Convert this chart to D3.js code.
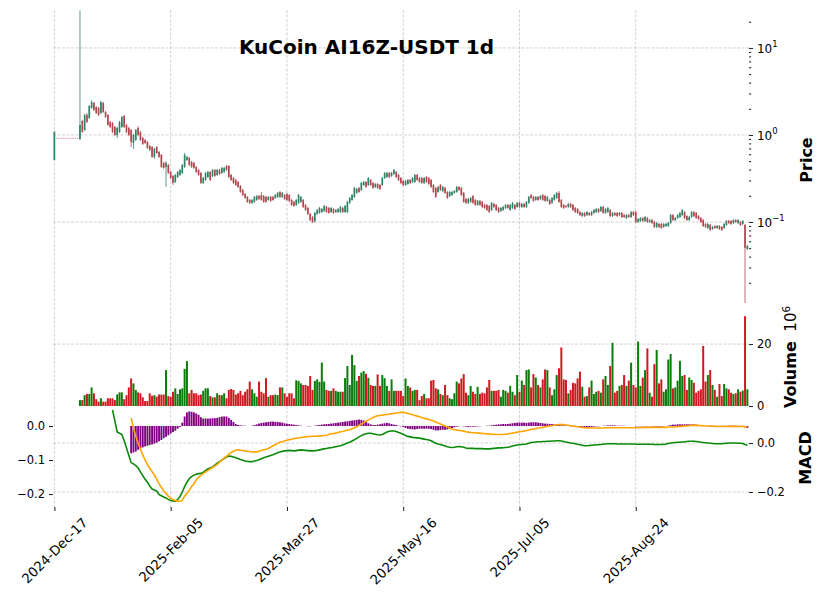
<!DOCTYPE html>
<html><head><meta charset="utf-8">
<script src="https://cdn.jsdelivr.net/npm/d3@7/dist/d3.min.js"></script>
<style>
html,body{margin:0;padding:0;background:#fff;}
svg text{font-family:"DejaVu Sans",sans-serif;fill:#000;}
</style></head>
<body><svg id="chart" width="824" height="600"></svg>
<script>
const chartTitle = "KuCoin AI16Z-USDT 1d";
const opens = [0.516,0.915,0.915,0.915,0.915,0.915,0.915,0.915,0.915,0.915,
0.915,0.899,1.448,1.142,1.698,1.568,2.043,2.332,2.098,2.043,
1.790,2.332,1.838,1.698,1.411,1.374,1.236,1.000,1.083,1.236,
1.653,1.303,1.204,1.142,0.809,0.876,1.204,1.083,0.924,0.876,
0.831,0.747,0.728,0.559,0.728,0.638,0.589,0.477,0.429,0.452,
0.376,0.338,0.288,0.329,0.347,0.366,0.429,0.516,0.544,0.490,
0.477,0.429,0.396,0.366,0.281,0.304,0.329,0.376,0.338,0.396,
0.347,0.396,0.366,0.376,0.440,0.440,0.347,0.320,0.304,0.288,
0.259,0.233,0.210,0.194,0.179,0.166,0.170,0.179,0.199,0.204,
0.199,0.194,0.179,0.194,0.194,0.189,0.194,0.221,0.194,0.204,
0.210,0.204,0.179,0.170,0.157,0.166,0.170,0.179,0.157,0.145,
0.124,0.114,0.103,0.124,0.127,0.130,0.134,0.149,0.145,0.130,
0.141,0.130,0.130,0.130,0.145,0.130,0.130,0.166,0.179,0.194,
0.216,0.246,0.233,0.266,0.288,0.266,0.304,0.281,0.253,0.273,
0.266,0.266,0.320,0.329,0.366,0.338,0.356,0.376,0.347,0.320,
0.296,0.266,0.273,0.304,0.288,0.288,0.347,0.320,0.320,0.281,
0.329,0.320,0.304,0.266,0.246,0.221,0.266,0.227,0.246,0.221,
0.199,0.204,0.216,0.221,0.253,0.246,0.216,0.184,0.166,0.170,
0.199,0.179,0.157,0.175,0.170,0.157,0.157,0.153,0.137,0.161,
0.157,0.145,0.134,0.137,0.145,0.157,0.137,0.145,0.157,0.149,
0.166,0.149,0.161,0.149,0.166,0.204,0.194,0.179,0.194,0.184,
0.204,0.199,0.175,0.179,0.166,0.179,0.189,0.216,0.179,0.157,
0.153,0.149,0.161,0.157,0.145,0.141,0.130,0.117,0.127,0.120,
0.127,0.120,0.127,0.130,0.141,0.134,0.149,0.127,0.130,0.137,
0.117,0.127,0.127,0.120,0.127,0.120,0.111,0.120,0.114,0.130,
0.130,0.100,0.103,0.111,0.103,0.111,0.100,0.105,0.100,0.0876,
0.0948,0.0948,0.0876,0.0899,0.0899,0.0974,0.120,0.105,0.111,0.114,
0.120,0.130,0.117,0.105,0.114,0.130,0.127,0.117,0.111,0.105,
0.0948,0.0853,0.0924,0.0831,0.0899,0.0853,0.0899,0.0876,0.0853,0.0924,
0.103,0.103,0.0974,0.105,0.0974,0.100,0.0948,0.0924,0.0490];
const highs = [1.10,0.915,0.915,0.915,0.915,0.915,0.915,0.915,0.915,0.915,
0.915,27,1.49,1.75,1.79,2.21,2.52,2.40,2.15,2.10,
2.46,2.40,1.89,1.74,1.45,1.41,1.27,1.24,1.45,1.65,
1.70,1.34,1.24,1.17,1.03,1.17,1.27,1.11,0.95,0.90,
0.853,0.767,0.747,0.709,0.747,0.655,0.605,0.490,0.503,0.464,
0.386,0.347,0.356,0.386,0.407,0.464,0.621,0.574,0.559,0.503,
0.490,0.440,0.407,0.376,0.329,0.376,0.386,0.386,0.407,0.407,
0.407,0.407,0.429,0.429,0.452,0.452,0.356,0.329,0.312,0.296,
0.266,0.240,0.216,0.199,0.184,0.184,0.199,0.204,0.204,0.221,
0.204,0.199,0.199,0.199,0.199,0.210,0.221,0.227,0.221,0.210,
0.216,0.210,0.184,0.175,0.184,0.210,0.199,0.184,0.161,0.149,
0.127,0.117,0.130,0.141,0.149,0.145,0.157,0.153,0.149,0.149,
0.145,0.141,0.145,0.153,0.149,0.157,0.175,0.194,0.210,0.253,
0.246,0.253,0.288,0.296,0.296,0.329,0.312,0.288,0.281,0.281,
0.273,0.329,0.376,0.376,0.376,0.376,0.407,0.386,0.356,0.329,
0.304,0.304,0.312,0.312,0.329,0.356,0.356,0.329,0.329,0.329,
0.338,0.329,0.312,0.273,0.253,0.259,0.273,0.259,0.253,0.227,
0.227,0.227,0.233,0.259,0.259,0.253,0.221,0.189,0.189,0.194,
0.204,0.184,0.179,0.179,0.175,0.161,0.161,0.157,0.170,0.166,
0.161,0.149,0.149,0.153,0.161,0.161,0.161,0.170,0.161,0.170,
0.170,0.166,0.166,0.175,0.199,0.210,0.199,0.199,0.199,0.204,
0.210,0.204,0.199,0.184,0.194,0.210,0.221,0.227,0.184,0.161,
0.157,0.166,0.166,0.161,0.149,0.145,0.134,0.130,0.130,0.134,
0.130,0.134,0.141,0.145,0.145,0.153,0.153,0.145,0.149,0.141,
0.130,0.130,0.130,0.130,0.130,0.124,0.124,0.124,0.134,0.134,
0.134,0.111,0.114,0.114,0.117,0.114,0.108,0.108,0.103,0.100,
0.0974,0.0974,0.0974,0.0974,0.100,0.124,0.124,0.114,0.124,0.130,
0.141,0.134,0.120,0.117,0.134,0.134,0.130,0.120,0.114,0.108,
0.0974,0.0974,0.0948,0.0899,0.0924,0.0924,0.0924,0.0899,0.0974,0.105,
0.105,0.105,0.108,0.108,0.108,0.103,0.105,0.0948,0.0545];
const lows = [0.51,0.915,0.915,0.915,0.915,0.915,0.915,0.915,0.915,0.915,
0.915,0.876,1.06,1.11,1.37,1.53,2.00,1.89,1.74,1.65,
1.74,1.79,1.57,1.27,1.20,1.05,0.97,0.924,1.05,1.20,
1.20,1.05,0.97,0.728,0.690,0.853,0.97,0.853,0.767,0.788,
0.690,0.655,0.544,0.530,0.605,0.544,0.418,0.407,0.253,0.356,
0.312,0.266,0.281,0.320,0.338,0.356,0.418,0.503,0.440,0.418,
0.407,0.366,0.338,0.273,0.273,0.296,0.320,0.296,0.329,0.329,
0.338,0.347,0.356,0.366,0.386,0.320,0.296,0.273,0.259,0.246,
0.216,0.199,0.184,0.166,0.161,0.161,0.166,0.175,0.179,0.175,
0.166,0.166,0.175,0.170,0.175,0.184,0.189,0.189,0.189,0.179,
0.175,0.170,0.153,0.149,0.153,0.161,0.166,0.145,0.134,0.120,
0.103,0.0974,0.0974,0.120,0.124,0.127,0.130,0.127,0.124,0.127,
0.124,0.127,0.127,0.127,0.127,0.127,0.127,0.161,0.175,0.189,
0.210,0.216,0.227,0.259,0.246,0.259,0.259,0.240,0.246,0.240,
0.233,0.259,0.312,0.320,0.320,0.329,0.347,0.320,0.296,0.273,
0.259,0.259,0.266,0.273,0.281,0.281,0.296,0.281,0.273,0.273,
0.281,0.266,0.246,0.216,0.189,0.216,0.227,0.221,0.210,0.184,
0.194,0.199,0.210,0.216,0.227,0.199,0.166,0.161,0.161,0.166,
0.161,0.153,0.153,0.153,0.145,0.141,0.134,0.127,0.134,0.145,
0.134,0.127,0.130,0.134,0.141,0.141,0.134,0.141,0.137,0.145,
0.145,0.145,0.145,0.145,0.161,0.184,0.170,0.175,0.175,0.179,
0.175,0.170,0.170,0.157,0.161,0.175,0.184,0.166,0.145,0.141,
0.145,0.145,0.145,0.134,0.127,0.124,0.117,0.114,0.114,0.117,
0.117,0.117,0.124,0.127,0.127,0.130,0.124,0.124,0.127,0.114,
0.114,0.117,0.114,0.117,0.111,0.111,0.108,0.111,0.111,0.117,
0.0974,0.0974,0.100,0.100,0.100,0.0974,0.0974,0.0948,0.0853,0.0853,
0.0853,0.0831,0.0853,0.0876,0.0876,0.0948,0.103,0.103,0.108,0.111,
0.117,0.108,0.103,0.103,0.111,0.114,0.108,0.105,0.0974,0.0876,
0.0853,0.0831,0.0788,0.0809,0.0831,0.0831,0.0809,0.0788,0.0831,0.0899,
0.0948,0.0924,0.0948,0.0974,0.0948,0.0899,0.0924,0.0117,0.0477];
const closes = [1.09,0.915,0.915,0.915,0.915,0.915,0.915,0.915,0.915,0.915,
0.915,1.303,1.083,1.698,1.411,2.154,2.395,1.938,1.790,1.698,
2.395,1.838,1.610,1.303,1.236,1.083,1.000,1.204,1.411,1.610,
1.236,1.083,1.000,0.831,1.000,1.142,1.000,0.876,0.788,0.809,
0.709,0.672,0.559,0.690,0.621,0.559,0.429,0.418,0.477,0.366,
0.320,0.281,0.347,0.376,0.396,0.452,0.589,0.559,0.452,0.429,
0.418,0.376,0.347,0.281,0.320,0.366,0.376,0.304,0.396,0.338,
0.396,0.356,0.418,0.418,0.396,0.329,0.304,0.281,0.266,0.253,
0.221,0.204,0.189,0.170,0.166,0.179,0.194,0.199,0.184,0.179,
0.170,0.170,0.194,0.175,0.179,0.204,0.216,0.194,0.216,0.184,
0.179,0.175,0.157,0.153,0.179,0.204,0.194,0.149,0.137,0.124,
0.105,0.100,0.127,0.137,0.145,0.141,0.153,0.130,0.127,0.145,
0.127,0.137,0.141,0.149,0.130,0.153,0.170,0.189,0.204,0.246,
0.240,0.221,0.281,0.288,0.253,0.320,0.266,0.246,0.273,0.246,
0.240,0.320,0.366,0.366,0.329,0.366,0.396,0.329,0.304,0.281,
0.266,0.296,0.304,0.281,0.320,0.347,0.304,0.288,0.281,0.320,
0.288,0.273,0.253,0.221,0.194,0.253,0.233,0.253,0.216,0.189,
0.221,0.221,0.227,0.253,0.233,0.204,0.170,0.166,0.184,0.189,
0.166,0.157,0.175,0.157,0.149,0.145,0.137,0.130,0.166,0.149,
0.137,0.130,0.145,0.149,0.157,0.145,0.157,0.166,0.141,0.166,
0.149,0.161,0.149,0.170,0.194,0.189,0.175,0.194,0.179,0.199,
0.179,0.175,0.194,0.161,0.189,0.204,0.216,0.170,0.149,0.145,
0.149,0.161,0.149,0.137,0.130,0.127,0.120,0.127,0.117,0.130,
0.120,0.130,0.137,0.141,0.130,0.149,0.127,0.141,0.145,0.117,
0.127,0.120,0.117,0.127,0.114,0.114,0.120,0.114,0.130,0.120,
0.100,0.108,0.111,0.103,0.114,0.100,0.105,0.0974,0.0876,0.0974,
0.0876,0.0853,0.0948,0.0948,0.0974,0.120,0.105,0.111,0.120,0.127,
0.137,0.111,0.105,0.114,0.130,0.117,0.111,0.108,0.100,0.0899,
0.0876,0.0948,0.0809,0.0876,0.0853,0.0899,0.0831,0.0809,0.0948,0.103,
0.0974,0.0948,0.105,0.100,0.105,0.0924,0.103,0.0503,0.0531];
// volume in units of 10^6
const volumes = [0,0,0,0,0,0,0,0,0,0,
0,1.9,1.9,3.5,3.9,3.9,6.0,4.1,2.2,1.4,
2.5,1.4,1.4,2.5,2.5,2.5,1.9,3.7,4.4,4.4,
2.2,3.5,6.0,8.9,7.3,5.2,4.4,4.1,2.8,1.6,
1.6,4.1,3.3,3.5,3.0,3.7,3.7,3.7,11.6,3.2,
3.0,4.6,5.7,3.9,5.4,5.7,12.0,14.5,4.1,5.2,
4.1,4.1,3.5,3.7,4.9,5.7,5.7,3.2,2.8,2.8,
4.1,3.5,3.5,4.1,2.5,5.2,5.5,5.2,3.7,4.1,
4.9,3.5,4.6,5.4,7.9,5.4,4.1,3.0,7.9,4.6,
4.1,9.0,3.0,3.5,3.5,3.7,3.5,6.0,6.0,4.1,
3.0,4.1,4.1,2.5,8.3,8.1,7.3,6.8,6.8,6.5,
9.7,5.2,8.1,8.6,7.8,14.0,7.9,5.2,4.9,4.9,
5.7,4.9,4.6,4.6,4.6,9.0,12.9,6.8,16.5,13.2,
8.1,9.7,10.8,11.3,10.4,9.1,6.8,6.5,6.5,10.2,
6.5,10.0,9.0,6.5,4.9,8.6,4.9,4.9,4.9,4.9,
3.2,8.9,6.5,6.0,4.9,5.2,5.2,1.9,3.2,3.9,
2.5,2.5,8.2,8.4,5.7,5.4,3.9,3.5,6.8,3.5,
2.5,2.2,4.1,7.9,7.3,8.9,10.3,4.3,3.5,6.5,
4.6,3.9,6.2,3.9,4.3,4.1,6.0,8.4,4.9,4.9,
4.9,5.2,3.0,5.2,4.9,4.3,6.5,4.6,3.5,10.0,
4.6,8.2,6.8,11.6,11.8,6.0,10.3,9.2,6.8,6.0,
8.6,11.8,11.6,6.0,3.5,5.4,10.0,12.2,18.9,8.6,
8.4,4.1,5.2,7.5,7.3,8.9,11.1,6.2,3.0,3.2,
6.0,8.2,3.9,4.6,4.9,4.3,8.6,9.7,6.8,12.9,
20.4,4.3,4.9,6.5,6.8,10.0,6.5,8.2,14.0,6.8,
6.0,20.8,6.5,9.2,11.6,18.6,4.3,3.0,13.5,18.1,
7.3,8.6,4.6,5.4,15.0,16.8,5.7,6.0,8.2,14.6,
9.7,10.0,5.2,9.2,8.4,7.5,4.3,4.9,5.4,19.4,
7.9,10.0,11.6,6.8,5.2,3.0,7.1,3.2,7.1,5.7,
5.4,4.3,3.9,4.1,5.4,4.6,5.0,29.0,5.4];
const macdStart = 25;
const macdLine = [0.135,0.090,0.045,0.040,0.035,
0.010,-0.020,-0.050,-0.080,-0.085,-0.092,-0.102,-0.118,-0.133,-0.148,
-0.160,-0.175,-0.188,-0.192,-0.196,-0.210,-0.215,-0.220,-0.224,-0.230,
-0.234,-0.236,-0.237,-0.231,-0.218,-0.200,-0.178,-0.160,-0.145,-0.137,
-0.131,-0.127,-0.125,-0.124,-0.120,-0.112,-0.106,-0.102,-0.098,-0.090,
-0.082,-0.076,-0.070,-0.063,-0.057,-0.053,-0.054,-0.057,-0.060,-0.063,
-0.067,-0.070,-0.073,-0.075,-0.076,-0.076,-0.073,-0.071,-0.068,-0.064,
-0.060,-0.057,-0.054,-0.051,-0.048,-0.044,-0.040,-0.037,-0.034,-0.032,
-0.031,-0.030,-0.031,-0.032,-0.031,-0.029,-0.028,-0.029,-0.030,-0.031,
-0.032,-0.032,-0.031,-0.030,-0.028,-0.026,-0.024,-0.022,-0.020,-0.019,
-0.017,-0.015,-0.013,-0.011,-0.008,-0.004,0.000,0.003,0.008,0.013,
0.019,0.025,0.030,0.035,0.038,0.040,0.040,0.038,0.036,0.034,
0.033,0.035,0.040,0.045,0.048,0.049,0.049,0.047,0.043,0.040,
0.036,0.031,0.027,0.025,0.023,0.022,0.021,0.020,0.018,0.016,
0.014,0.012,0.009,0.004,-0.001,-0.004,-0.006,-0.009,-0.012,-0.015,
-0.017,-0.018,-0.017,-0.015,-0.014,-0.015,-0.017,-0.020,-0.022,-0.022,
-0.022,-0.023,-0.023,-0.023,-0.023,-0.024,-0.024,-0.024,-0.023,-0.022,
-0.021,-0.020,-0.020,-0.019,-0.018,-0.017,-0.015,-0.012,-0.010,-0.008,
-0.007,-0.006,-0.005,-0.004,-0.001,0.002,0.003,0.004,0.005,0.005,
0.006,0.006,0.007,0.007,0.008,0.008,0.009,0.009,0.008,0.006,
0.004,0.002,0.000,-0.001,-0.003,-0.005,-0.007,-0.009,-0.011,-0.011,
-0.010,-0.009,-0.008,-0.007,-0.007,-0.006,-0.005,-0.004,-0.003,-0.003,
-0.003,-0.003,-0.004,-0.004,-0.004,-0.004,-0.004,-0.004,-0.004,-0.004,
-0.005,-0.005,-0.005,-0.005,-0.005,-0.005,-0.005,-0.005,-0.006,-0.006,
-0.006,-0.006,-0.005,-0.004,-0.002,0.000,0.001,0.002,0.003,0.003,
0.004,0.005,0.006,0.007,0.007,0.007,0.006,0.005,0.003,0.002,
0.001,0.000,-0.001,-0.002,-0.003,-0.003,-0.003,-0.003,-0.002,-0.001,
0.000,0.000,0.000,0.000,-0.001,-0.001,-0.002,-0.006,-0.009];
const signalStart = 33;
const signalLine = [0.023,-0.005,-0.030,-0.050,-0.068,-0.085,-0.100,
-0.113,-0.124,-0.134,-0.144,-0.156,-0.170,-0.180,-0.190,-0.198,-0.206,
-0.212,-0.216,-0.219,-0.221,-0.221,-0.218,-0.206,-0.198,-0.188,-0.178,
-0.170,-0.158,-0.150,-0.145,-0.140,-0.135,-0.131,-0.126,-0.122,-0.118,
-0.113,-0.106,-0.100,-0.094,-0.089,-0.083,-0.078,-0.074,-0.071,-0.070,
-0.071,-0.072,-0.073,-0.074,-0.075,-0.076,-0.076,-0.076,-0.074,-0.072,
-0.070,-0.068,-0.066,-0.062,-0.058,-0.055,-0.051,-0.048,-0.046,-0.044,
-0.042,-0.040,-0.039,-0.037,-0.036,-0.035,-0.034,-0.033,-0.032,-0.031,
-0.031,-0.030,-0.030,-0.030,-0.029,-0.029,-0.028,-0.027,-0.025,-0.023,
-0.022,-0.021,-0.019,-0.017,-0.016,-0.014,-0.012,-0.011,-0.008,-0.005,
-0.002,0.002,0.006,0.010,0.014,0.018,0.021,0.025,0.028,0.030,
0.031,0.032,0.033,0.034,0.035,0.036,0.037,0.038,0.039,0.040,
0.040,0.039,0.037,0.035,0.033,0.031,0.029,0.027,0.025,0.023,
0.021,0.019,0.017,0.015,0.012,0.009,0.006,0.003,0.000,-0.003,
-0.006,-0.009,-0.011,-0.012,-0.013,-0.014,-0.015,-0.017,-0.018,-0.019,
-0.020,-0.020,-0.021,-0.021,-0.022,-0.022,-0.023,-0.023,-0.024,-0.024,
-0.025,-0.025,-0.025,-0.025,-0.024,-0.023,-0.022,-0.021,-0.020,-0.018,
-0.017,-0.016,-0.015,-0.013,-0.012,-0.010,-0.009,-0.008,-0.006,-0.005,
-0.004,-0.002,-0.001,0.000,0.001,0.002,0.003,0.004,0.004,0.004,
0.003,0.002,0.001,0.000,-0.001,-0.002,-0.003,-0.004,-0.005,-0.006,
-0.006,-0.006,-0.006,-0.006,-0.006,-0.006,-0.006,-0.005,-0.005,-0.005,
-0.005,-0.005,-0.005,-0.005,-0.005,-0.005,-0.005,-0.005,-0.005,-0.005,
-0.005,-0.005,-0.005,-0.004,-0.004,-0.004,-0.004,-0.004,-0.004,-0.004,
-0.004,-0.004,-0.004,-0.004,-0.003,-0.003,-0.003,-0.002,-0.002,-0.001,
-0.001,0.000,0.000,0.001,0.002,0.002,0.002,0.002,0.001,0.001,
0.000,0.000,0.000,0.000,-0.001,-0.001,-0.001,-0.001,-0.001,-0.001,
-0.001,-0.001,-0.001,-0.001,-0.001,-0.001,-0.001,-0.002,-0.002];
const histStart = 33;
const histogram = [-0.080,-0.078,-0.075,-0.070,-0.066,-0.063,-0.060,
-0.058,-0.056,-0.054,-0.052,-0.049,-0.045,-0.041,-0.036,-0.032,-0.027,
-0.022,-0.018,-0.014,-0.008,-0.003,0.010,0.028,0.040,0.043,0.042,
0.040,0.037,0.033,0.026,0.022,0.022,0.022,0.022,0.023,0.023,
0.024,0.026,0.028,0.028,0.028,0.024,0.018,0.012,0.006,0.003,
0.002,0.001,0.001,0.000,0.000,0.001,0.003,0.005,0.007,0.009,
0.010,0.011,0.012,0.013,0.013,0.012,0.012,0.011,0.010,0.008,
0.007,0.006,0.005,0.004,0.003,0.002,0.001,0.000,0.000,-0.001,
-0.001,0.000,0.001,0.002,0.003,0.004,0.005,0.006,0.006,0.007,
0.008,0.009,0.010,0.011,0.012,0.013,0.014,0.015,0.016,0.017,
0.018,0.019,0.018,0.016,0.012,0.008,0.005,0.003,0.003,0.004,
0.005,0.007,0.008,0.009,0.008,0.006,0.004,0.003,0.001,-0.001,
-0.003,-0.006,-0.008,-0.009,-0.010,-0.010,-0.009,-0.008,-0.008,-0.008,
-0.008,-0.008,-0.009,-0.011,-0.013,-0.013,-0.012,-0.011,-0.011,-0.010,
-0.008,-0.006,-0.004,-0.002,-0.001,0.000,-0.001,-0.002,-0.003,-0.002,
-0.002,-0.002,-0.001,-0.001,0.000,0.000,0.001,0.001,0.002,0.003,
0.004,0.005,0.005,0.006,0.006,0.006,0.007,0.008,0.009,0.010,
0.010,0.010,0.010,0.009,0.010,0.011,0.011,0.011,0.010,0.009,
0.008,0.007,0.007,0.006,0.006,0.005,0.005,0.004,0.004,0.002,
0.001,0.000,-0.001,-0.002,-0.002,-0.003,-0.004,-0.005,-0.006,-0.005,
-0.004,-0.003,-0.002,-0.001,-0.001,0.000,0.001,0.001,0.002,0.002,
0.002,0.002,0.001,0.001,0.001,0.001,0.000,0.000,0.000,0.000,
-0.001,-0.001,-0.001,-0.001,-0.001,-0.001,-0.001,-0.001,-0.002,-0.002,
-0.002,-0.002,-0.001,0.000,0.001,0.003,0.004,0.004,0.005,0.005,
0.005,0.005,0.005,0.005,0.005,0.005,0.004,0.003,0.002,0.001,
0.000,-0.001,-0.002,-0.002,-0.002,-0.002,-0.002,-0.002,-0.001,0.000,
0.001,0.001,0.001,0.001,0.000,0.000,-0.001,-0.004,-0.006];
const tickIndex = [0,50,100,150,200,250];
const tickLabels = ["2024-Dec-17","2025-Feb-05","2025-Mar-27","2025-May-16","2025-Jul-05","2025-Aug-24"];
const priceTicks = [10,1,0.1];
const priceExponents = ["1","0","\u22121"];
const volumeTicks = [0,20];
const macdRightTicks = [0,-0.2];
const macdLeftTicks = [0,-0.1,-0.2];

const svg = d3.select("#chart");
const L = 53, R = 749;
const P = {top:10, bot:306}, V = {top:306, bot:406}, M = {top:406, bot:507};
const N = closes.length;
const x = d3.scaleLinear().domain([-0.6, N - 1 + 0.7]).range([L, R]);
const step = x(1) - x(0);
const yP = d3.scaleLog().domain([0.01082, 27.3]).range([P.bot, P.top]);
const yV = d3.scaleLinear().domain([0, 32.3]).range([V.bot, V.top]);
const yML = d3.scaleLinear().domain([-0.238, 0.0588]).range([M.bot, M.top]);
const yMR = d3.scaleLinear().domain([-0.261, 0.151]).range([M.bot, M.top]);

const UP = "#2f8466", DN = "#b3474f";
const VUP = "#0b7d0b", VDN = "#cf1a22";
const fmtNeg = v => (v < 0 ? "\u2212" : "") + Math.abs(v).toFixed(1);

// grid
const grid = svg.append("g").attr("stroke", "#c6c6c6").attr("stroke-width", 0.8).attr("stroke-dasharray", "3,1.5");
tickIndex.forEach(i => grid.append("line").attr("x1", x(i)).attr("x2", x(i)).attr("y1", P.top).attr("y2", M.bot));
priceTicks.forEach(v => grid.append("line").attr("x1", L).attr("x2", R).attr("y1", yP(v)).attr("y2", yP(v)));
grid.append("line").attr("x1", L).attr("x2", R).attr("y1", yV(20)).attr("y2", yV(20));
macdRightTicks.forEach(v => grid.append("line").attr("x1", L).attr("x2", R).attr("y1", yMR(v)).attr("y2", yMR(v)));

// candles
const idx = d3.range(N);
const cg = svg.append("g");
const bw = step * 0.72;
idx.forEach(i => {
  const o = opens[i], c = closes[i], h = highs[i], l = lows[i];
  const flat = o === c && h === l;
  const col = c > o ? UP : DN;
  if (flat) {
    cg.append("rect").attr("x", x(i) - step * 0.3).attr("width", step * 0.6).attr("y", yP(c) - 0.6).attr("height", 1.2)
      .attr("fill", "#e3a3aa");
    return;
  }
  cg.append("line").attr("x1", x(i)).attr("x2", x(i)).attr("y1", yP(h)).attr("y2", yP(l))
    .attr("stroke", col).attr("stroke-width", 0.8);
  const top = yP(Math.max(o, c)), bot = yP(Math.min(o, c));
  cg.append("rect").attr("x", x(i) - bw / 2).attr("width", bw).attr("y", top).attr("height", Math.max(0.8, bot - top))
    .attr("fill", col);
});

// volume
const vw = step * 0.86;
svg.append("g").selectAll("rect").data(idx.filter(i => volumes[i] > 0)).join("rect")
  .attr("x", i => x(i) - vw / 2).attr("width", vw)
  .attr("y", i => yV(volumes[i])).attr("height", i => yV(0) - yV(volumes[i]))
  .attr("fill", i => closes[i] >= opens[i] ? VUP : VDN);

// MACD histogram (left scale)
const hw = step * 0.8;
svg.append("g").selectAll("rect").data(histogram.map((v, k) => ({i: k + histStart, v}))).join("rect")
  .attr("x", d => x(d.i) - hw / 2).attr("width", hw)
  .attr("y", d => Math.min(yML(0), yML(d.v))).attr("height", d => Math.abs(yML(d.v) - yML(0)))
  .attr("fill", "#800080");

// MACD lines
svg.append("path").datum(macdLine.map((v, k) => [k + macdStart, v]))
  .attr("fill", "none").attr("stroke", "#0a8a0a").attr("stroke-width", 1.6).attr("stroke-linejoin", "round")
  .attr("d", d3.line().x(d => x(d[0])).y(d => yMR(d[1])));
svg.append("path").datum(signalLine.map((v, k) => [k + signalStart, v]))
  .attr("fill", "none").attr("stroke", "#ffa500").attr("stroke-width", 1.6).attr("stroke-linejoin", "round")
  .attr("d", d3.line().x(d => x(d[0])).y(d => yML(d[1])));

// axes
const FS = 11.5, XFS = 13.3;
function styleAxis(g, fs) {
  g.select(".domain").remove();
  g.selectAll(".tick line").attr("stroke", "#000").attr("stroke-width", 0.9);
  g.selectAll(".tick text").attr("font-size", fs || FS).attr("font-family", "DejaVu Sans").attr("fill", "#000");
  g.attr("font-family", null).attr("font-size", null);
}
// price right axis (major + minor)
const minorVals = [];
[0.01, 0.1, 1, 10].forEach(d => { for (let m = 2; m <= 9; m++) { const v = m * d; if (v > 0.01082 && v < 27.3) minorVals.push(v); } });
svg.append("g").attr("transform", `translate(${R},0)`)
  .call(d3.axisRight(yP).tickValues(minorVals).tickSize(2.2).tickFormat("")).call(g => styleAxis(g));
svg.append("g").attr("transform", `translate(${R},0)`)
  .call(d3.axisRight(yP).tickValues(priceTicks).tickSize(4).tickPadding(3.9).tickFormat("")).call(g => styleAxis(g));
priceTicks.forEach((v, k) => {
  const t = svg.append("text").attr("x", R + 7.9).attr("y", yP(v) + 4.8).attr("font-size", 12);
  t.append("tspan").text("10");
  t.append("tspan").attr("dy", -6).attr("font-size", 8.5).text(priceExponents[k]);
});
// volume axis
svg.append("g").attr("transform", `translate(${R},0)`)
  .call(d3.axisRight(yV).tickValues(volumeTicks).tickSize(4).tickPadding(3.9).tickFormat(d3.format("d"))).call(g => styleAxis(g));
// macd axes
svg.append("g").attr("transform", `translate(${R},0)`)
  .call(d3.axisRight(yMR).tickValues(macdRightTicks).tickSize(4).tickPadding(3.9).tickFormat(fmtNeg)).call(g => styleAxis(g));
svg.append("g").attr("transform", `translate(${L},0)`)
  .call(d3.axisLeft(yML).tickValues(macdLeftTicks).tickSize(4).tickPadding(3.9).tickFormat(fmtNeg)).call(g => styleAxis(g));
// x axis
const xa = svg.append("g").attr("transform", `translate(0,${M.bot})`)
  .call(d3.axisBottom(x).tickValues(tickIndex).tickSize(4).tickFormat((d, k) => tickLabels[k])).call(g => styleAxis(g, XFS));
xa.selectAll(".tick text").each(function() {
  const w = this.getComputedTextLength();
  const h = XFS * 1.16;
  const bb = (w + h) * Math.SQRT1_2;
  d3.select(this).attr("text-anchor", "middle").attr("x", 0).attr("y", 0).attr("dy", "0.33em")
    .attr("transform", `translate(0,${4 + 3.9 + bb / 2}) rotate(-45)`);
});

// title & labels
svg.append("text").attr("x", 366.5).attr("y", 53.5).attr("text-anchor", "middle")
  .attr("font-size", 20).attr("font-weight", "bold").text(chartTitle);
function ylab(cx, cy, parts) {
  const t = svg.append("text").attr("transform", `translate(${cx},${cy}) rotate(-90)`)
    .attr("text-anchor", "middle").attr("dy", "0.35em").attr("font-size", 16);
  parts(t);
}
ylab(806.5, 160, t => t.append("tspan").attr("font-weight", "bold").text("Price"));
ylab(790, 357, t => {
  t.append("tspan").attr("font-weight", "bold").text("Volume");
  t.append("tspan").attr("font-size", 15).text("\u00a0\u00a010");
  t.append("tspan").attr("font-size", 10.5).attr("dy", -6).text("6");
});
ylab(805, 458, t => t.append("tspan").attr("font-weight", "bold").text("MACD"));
</script>
</body></html>
